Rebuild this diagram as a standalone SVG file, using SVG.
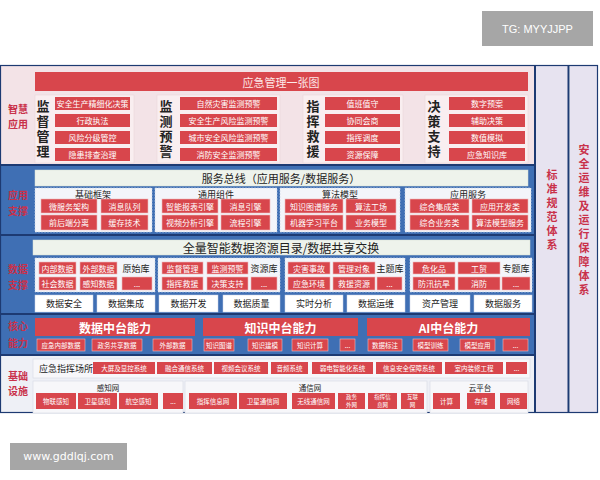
<svg xmlns="http://www.w3.org/2000/svg" width="600" height="480" viewBox="0 0 600 480">
<style>
text{font-family:"Noto Sans CJK SC","Noto Sans",sans-serif;text-anchor:middle;dominant-baseline:central}
.v{writing-mode:vertical-rl;text-orientation:upright}
.r{fill:#d8464c}
.rb{fill:#d8464c;stroke:#f0b8bc;stroke-width:0.6}
.w{fill:#fff;font-size:8px}
.wt{fill:#fde8e8;font-size:11px}
.lab{fill:#c9314a;font-size:10px;font-weight:bold}
.vl{fill:#222;font-size:13px;font-weight:bold;letter-spacing:2px}
.grp{fill:#f3f5fa;stroke:#c9d3e6;stroke-width:0.6;stroke-dasharray:2 1}
.pg{fill:#f9eef0;stroke:#ead6da;stroke-width:0.6}
.bar{fill:#eef3ec;stroke:#d7dfd3;stroke-width:0.5}
.dk{fill:#222;font-size:9px}
.wb{fill:#fff;stroke:#c9d3e6;stroke-width:0.5}
.cap{fill:#fff;font-size:12px;font-weight:bold}
.col{fill:#c9314a;font-size:11px;font-weight:bold;letter-spacing:3px}
.sm{fill:#fff;font-size:6.5px}
.xs{fill:#fff;font-size:5.5px}
</style>

<!-- backgrounds -->
<rect x="0" y="65" width="535" height="100" fill="#f3e3e7"/>
<rect x="0" y="165" width="535" height="190" fill="#3f6fb4"/>
<rect x="0" y="355" width="535" height="58" fill="#eef0f6"/>
<rect x="536" y="65" width="32" height="348" fill="#e7e3f0"/>
<rect x="570" y="65" width="28" height="348" fill="#e7e3f0"/>
<g stroke="#1d3a72" fill="none">
<rect x="0.5" y="65.5" width="597" height="347" stroke-width="1.2"/>
<line x1="0" y1="165" x2="535" y2="165" stroke-width="2"/>
<line x1="0" y1="235" x2="535" y2="235" stroke-width="2"/>
<line x1="0" y1="314" x2="535" y2="314" stroke-width="2"/>
<line x1="0" y1="355" x2="535" y2="355" stroke-width="2"/>
<line x1="535" y1="65" x2="535" y2="413" stroke-width="2"/>
<line x1="568.5" y1="65" x2="568.5" y2="413" stroke-width="2"/>
</g>

<!-- row labels -->
<g id="row-labels">
<text class="lab" x="18" y="108">智慧</text><text class="lab" x="18" y="123">应用</text>
<text class="lab" x="18" y="194">应用</text><text class="lab" x="18" y="210">支撑</text>
<text class="lab" x="18" y="268">数据</text><text class="lab" x="18" y="284">支撑</text>
<text class="lab" x="18" y="325">核心</text><text class="lab" x="18" y="342">能力</text>
<text class="lab" x="18" y="375">基础</text><text class="lab" x="18" y="390">设施</text>
</g>

<!-- right columns -->
<g id="standards">
<text class="col v" x="552" y="211">标准规范体系</text>
</g>
<g id="security">
<text class="col v" x="584" y="221">安全运维及运行保障体系</text>
</g>

<!-- row 1 -->
<g id="yjzt">
<rect class="r" x="35" y="72" width="493" height="19"/>
<text class="wt" x="281" y="82">应急管理一张图</text>
</g>
<g id="jdgl">
<rect class="pg" x="35" y="95" width="99" height="68"/>
<text class="vl v" x="43" y="130">监督管理</text>
<rect class="r" x="55" y="97" width="75" height="13"/><text class="w" x="92.5" y="103.5">安全生产精细化决策</text>
<rect class="r" x="55" y="114" width="75" height="13"/><text class="w" x="92.5" y="120.5">行政执法</text>
<rect class="r" x="55" y="131" width="75" height="13"/><text class="w" x="92.5" y="137.5">风险分级管控</text>
<rect class="r" x="55" y="148" width="75" height="13"/><text class="w" x="92.5" y="154.5">隐患排查治理</text>
</g>
<g id="jcyj">
<rect class="pg" x="157" y="95" width="123" height="68"/>
<text class="vl v" x="166" y="130">监测预警</text>
<rect class="r" x="180" y="97" width="97" height="13"/><text class="w" x="228.5" y="103.5">自然灾害监测预警</text>
<rect class="r" x="180" y="114" width="97" height="13"/><text class="w" x="228.5" y="120.5">安全生产风险监测预警</text>
<rect class="r" x="180" y="131" width="97" height="13"/><text class="w" x="228.5" y="137.5">城市安全风险监测预警</text>
<rect class="r" x="180" y="148" width="97" height="13"/><text class="w" x="228.5" y="154.5">消防安全监测预警</text>
</g>
<g id="zhjy">
<rect class="pg" x="303" y="95" width="100" height="68"/>
<text class="vl v" x="313" y="130">指挥救援</text>
<rect class="r" x="325" y="97" width="75" height="13"/><text class="w" x="362.5" y="103.5">值班值守</text>
<rect class="r" x="325" y="114" width="75" height="13"/><text class="w" x="362.5" y="120.5">协同会商</text>
<rect class="r" x="325" y="131" width="75" height="13"/><text class="w" x="362.5" y="137.5">指挥调度</text>
<rect class="r" x="325" y="148" width="75" height="13"/><text class="w" x="362.5" y="154.5">资源保障</text>
</g>
<g id="jczc">
<rect class="pg" x="425" y="95" width="103" height="68"/>
<text class="vl v" x="434" y="130">决策支持</text>
<rect class="r" x="449" y="97" width="76" height="13"/><text class="w" x="487" y="103.5">数字预案</text>
<rect class="r" x="449" y="114" width="76" height="13"/><text class="w" x="487" y="120.5">辅助决策</text>
<rect class="r" x="449" y="131" width="76" height="13"/><text class="w" x="487" y="137.5">数值模拟</text>
<rect class="r" x="449" y="148" width="76" height="13"/><text class="w" x="487" y="154.5">应急知识库</text>
</g>

<!-- row 2 -->
<g id="fwzx">
<rect class="bar" x="35" y="170" width="493" height="16"/>
<text x="281" y="178" fill="#222" font-size="11">服务总线（应用服务/数据服务）</text>
</g>
<g id="jckj">
<rect class="grp" x="35" y="188" width="117" height="44"/>
<text class="dk" x="93" y="194">基础框架</text>
<rect class="rb" x="41" y="199" width="56" height="14"/><text class="w" x="69" y="206">微服务架构</text>
<rect class="rb" x="101" y="199" width="47" height="14"/><text class="w" x="124.5" y="206">消息队列</text>
<rect class="rb" x="41" y="215" width="56" height="15"/><text class="w" x="69" y="222.5">前后端分离</text>
<rect class="rb" x="101" y="215" width="47" height="15"/><text class="w" x="124.5" y="222.5">缓存技术</text>
</g>
<g id="tyzj">
<rect class="grp" x="155" y="188" width="122" height="44"/>
<text class="dk" x="216" y="194">通用组件</text>
<rect class="rb" x="162" y="199" width="56" height="14"/><text class="w" x="190" y="206">智能报表引擎</text>
<rect class="rb" x="221" y="199" width="49" height="14"/><text class="w" x="245.5" y="206">消息引擎</text>
<rect class="rb" x="162" y="215" width="56" height="15"/><text class="w" x="190" y="222.5">视频分析引擎</text>
<rect class="rb" x="221" y="215" width="49" height="15"/><text class="w" x="245.5" y="222.5">流程引擎</text>
</g>
<g id="sfmx">
<rect class="grp" x="280" y="188" width="120" height="44"/>
<text class="dk" x="340" y="194">算法模型</text>
<rect class="rb" x="285" y="199" width="58" height="14"/><text class="w" x="314" y="206">知识图谱服务</text>
<rect class="rb" x="346" y="199" width="50" height="14"/><text class="w" x="371" y="206">算法工场</text>
<rect class="rb" x="285" y="215" width="58" height="15"/><text class="w" x="314" y="222.5">机器学习平台</text>
<rect class="rb" x="346" y="215" width="50" height="15"/><text class="w" x="371" y="222.5">业务模型</text>
</g>
<g id="yyfw">
<rect class="grp" x="405" y="188" width="126" height="44"/>
<text class="dk" x="468" y="194">应用服务</text>
<rect class="rb" x="410" y="199" width="59" height="14"/><text class="w" x="439.5" y="206">综合集成类</text>
<rect class="rb" x="472" y="199" width="56" height="14"/><text class="w" x="500" y="206">应用开发类</text>
<rect class="rb" x="410" y="215" width="59" height="15"/><text class="w" x="439.5" y="222.5">综合业务类</text>
<rect class="rb" x="472" y="215" width="56" height="15"/><text class="w" x="500" y="222.5">算法模型服务</text>
</g>

<!-- row 3 -->
<g id="sjml">
<rect class="bar" x="33" y="240" width="497" height="15"/>
<text x="281" y="247.5" fill="#222" font-size="12">全量智能数据资源目录/数据共享交换</text>
</g>
<g id="ysk">
<rect class="grp" x="35" y="258" width="120" height="34"/>
<rect class="rb" x="39" y="262" width="37" height="12"/><text class="w" x="57.5" y="268">内部数据</text>
<rect class="rb" x="80" y="262" width="37" height="12"/><text class="w" x="98.5" y="268">外部数据</text>
<rect class="rb" x="39" y="277" width="37" height="13"/><text class="w" x="57.5" y="283.5">社会数据</text>
<rect class="rb" x="80" y="277" width="37" height="13"/><text class="w" x="98.5" y="283.5">感知数据</text>
<rect class="rb" x="122" y="277" width="30" height="13"/><text class="w" x="137" y="283">...</text>
<text class="dk" x="136" y="268">原始库</text>
</g>
<g id="zyk">
<rect class="grp" x="158" y="258" width="122" height="34"/>
<rect class="rb" x="162" y="262" width="41" height="12"/><text class="w" x="182.5" y="268">监督管理</text>
<rect class="rb" x="207" y="262" width="41" height="12"/><text class="w" x="227.5" y="268">监测预警</text>
<rect class="rb" x="162" y="277" width="41" height="13"/><text class="w" x="182.5" y="283.5">指挥救援</text>
<rect class="rb" x="207" y="277" width="41" height="13"/><text class="w" x="227.5" y="283.5">决策支持</text>
<rect class="rb" x="251" y="277" width="26" height="13"/><text class="w" x="264" y="283">...</text>
<text class="dk" x="264" y="268">资源库</text>
</g>
<g id="ztk">
<rect class="grp" x="285" y="258" width="120" height="34"/>
<rect class="rb" x="288" y="262" width="42" height="12"/><text class="w" x="309" y="268">灾害事故</text>
<rect class="rb" x="333" y="262" width="42" height="12"/><text class="w" x="354" y="268">管理对象</text>
<rect class="rb" x="288" y="277" width="42" height="13"/><text class="w" x="309" y="283.5">应急环境</text>
<rect class="rb" x="333" y="277" width="42" height="13"/><text class="w" x="354" y="283.5">救援资源</text>
<rect class="rb" x="377" y="277" width="25" height="13"/><text class="w" x="389.5" y="283">...</text>
<text class="dk" x="390" y="268">主题库</text>
</g>
<g id="zhk">
<rect class="grp" x="410" y="258" width="122" height="34"/>
<rect class="rb" x="413" y="262" width="42" height="12"/><text class="w" x="434" y="268">危化品</text>
<rect class="rb" x="458" y="262" width="42" height="12"/><text class="w" x="479" y="268">工贸</text>
<rect class="rb" x="413" y="277" width="42" height="13"/><text class="w" x="434" y="283.5">防汛抗旱</text>
<rect class="rb" x="458" y="277" width="42" height="13"/><text class="w" x="479" y="283.5">消防</text>
<rect class="rb" x="502" y="277" width="28" height="13"/><text class="w" x="516" y="283">...</text>
<text class="dk" x="516" y="268">专题库</text>
</g>
<g id="sjzl">
<rect class="wb" x="35" y="295" width="58" height="17"/><text class="dk" x="64" y="303.5">数据安全</text>
<rect class="wb" x="97" y="295" width="58" height="17"/><text class="dk" x="126" y="303.5">数据集成</text>
<rect class="wb" x="159" y="295" width="59" height="17"/><text class="dk" x="188.5" y="303.5">数据开发</text>
<rect class="wb" x="223" y="295" width="57" height="17"/><text class="dk" x="251.5" y="303.5">数据质量</text>
<rect class="wb" x="285" y="295" width="58" height="17"/><text class="dk" x="314" y="303.5">实时分析</text>
<rect class="wb" x="347" y="295" width="58" height="17"/><text class="dk" x="376" y="303.5">数据运维</text>
<rect class="wb" x="410" y="295" width="60" height="17"/><text class="dk" x="440" y="303.5">资产管理</text>
<rect class="wb" x="474" y="295" width="58" height="17"/><text class="dk" x="503" y="303.5">数据服务</text>
</g>

<!-- row 4 -->
<g id="sjzt">
<rect class="r" x="35" y="318" width="160" height="18"/>
<text class="cap" x="115" y="327">数据中台能力</text>
<rect class="rb" x="37" y="339" width="48" height="12"/><text class="sm" x="61" y="345">应急内部数据</text>
<rect class="rb" x="92" y="339" width="50" height="12"/><text class="sm" x="117" y="345">政务共享数据</text>
<rect class="rb" x="153" y="339" width="39" height="12"/><text class="sm" x="172.5" y="345">外部数据</text>
</g>
<g id="zszt">
<rect class="r" x="203" y="318" width="155" height="18"/>
<text class="cap" x="280.5" y="327">知识中台能力</text>
<rect class="rb" x="204" y="339" width="30" height="12"/><text class="sm" x="219" y="345">知识图谱</text>
<rect class="rb" x="248" y="339" width="34" height="12"/><text class="sm" x="265" y="345">知识建模</text>
<rect class="rb" x="292" y="339" width="36" height="12"/><text class="sm" x="310" y="345">知识计算</text>
<rect class="rb" x="340" y="339" width="15" height="12"/><text class="sm" x="347.5" y="344.5">...</text>
</g>
<g id="aizt">
<rect class="r" x="367" y="318" width="163" height="18"/>
<text class="cap" x="448.5" y="327">AI中台能力</text>
<rect class="rb" x="368" y="339" width="34" height="12"/><text class="sm" x="385" y="345">数据标注</text>
<rect class="rb" x="413" y="339" width="35" height="12"/><text class="sm" x="430.5" y="345">模型训练</text>
<rect class="rb" x="460" y="339" width="35" height="12"/><text class="sm" x="477.5" y="345">模型应用</text>
<rect class="rb" x="503" y="339" width="25" height="12"/><text class="sm" x="515.5" y="344.5">...</text>
</g>

<!-- row 5 -->
<g id="zhcs">
<rect x="33" y="359" width="497" height="19" fill="#f7f7fa" stroke="#d6d9e4" stroke-width="0.6"/>
<text class="dk" x="66" y="368.5">应急指挥场所</text>
<rect class="r" x="93" y="362" width="62" height="12"/><text class="sm" x="124" y="368">大屏及显控系统</text>
<rect class="r" x="157" y="362" width="55" height="12"/><text class="sm" x="184.5" y="368">融合通信系统</text>
<rect class="r" x="214" y="362" width="54" height="12"/><text class="sm" x="241" y="368">视频会议系统</text>
<rect class="r" x="271" y="362" width="37" height="12"/><text class="sm" x="289.5" y="368">音频系统</text>
<rect class="r" x="312" y="362" width="61" height="12"/><text class="sm" x="342.5" y="368">弱电智能化系统</text>
<rect class="r" x="376" y="362" width="66" height="12"/><text class="sm" x="409" y="368">信息安全保障系统</text>
<rect class="r" x="445" y="362" width="58" height="12"/><text class="sm" x="474" y="368">室内装修工程</text>
<rect class="r" x="506" y="362" width="21" height="12"/><text class="sm" x="516.5" y="367.5">...</text>
</g>
<g id="gzw">
<rect x="33" y="381" width="150" height="32" fill="#f7f7fa" stroke="#d6d9e4" stroke-width="0.6"/>
<text x="108" y="387" fill="#222" font-size="7.5">感知网</text>
<rect class="r" x="36" y="393" width="40" height="16"/><text class="sm" x="56" y="401">物联感知</text>
<rect class="r" x="78" y="393" width="39" height="16"/><text class="sm" x="97.5" y="401">卫星感知</text>
<rect class="r" x="119" y="393" width="39" height="16"/><text class="sm" x="138.5" y="401">航空感知</text>
<rect class="r" x="163" y="393" width="20" height="16"/><text class="sm" x="173" y="400.5">...</text>
</g>
<g id="txw">
<rect x="185" y="381" width="242" height="32" fill="#f7f7fa" stroke="#d6d9e4" stroke-width="0.6"/>
<text x="310" y="387" fill="#222" font-size="7.5">通信网</text>
<rect class="r" x="189" y="393" width="48" height="16"/><text class="sm" x="213" y="401">指挥信息网</text>
<rect class="r" x="239" y="393" width="48" height="16"/><text class="sm" x="263" y="401">卫星通信网</text>
<rect class="r" x="292" y="393" width="43" height="16"/><text class="sm" x="313.5" y="401">无线通信网</text>
<rect class="r" x="338" y="393" width="27" height="16"/><text class="xs" x="351.5" y="397"><tspan x="351.5" dy="0">政务</tspan><tspan x="351.5" dy="8">外网</tspan></text>
<rect class="r" x="368" y="393" width="29" height="16"/><text class="xs" x="382.5" y="397"><tspan x="382.5" dy="0">指挥信</tspan><tspan x="382.5" dy="8">息网</tspan></text>
<rect class="r" x="401" y="393" width="23" height="16"/><text class="xs" x="412.5" y="397"><tspan x="412.5" dy="0">互联</tspan><tspan x="412.5" dy="8">网</tspan></text>
</g>
<g id="ypt">
<rect x="430" y="381" width="98" height="32" fill="#f7f7fa" stroke="#d6d9e4" stroke-width="0.6"/>
<text x="480" y="387" fill="#222" font-size="7.5">云平台</text>
<rect class="r" x="433" y="393" width="27" height="16"/><text class="sm" x="446.5" y="401">计算</text>
<rect class="r" x="467" y="393" width="28" height="16"/><text class="sm" x="481" y="401">存储</text>
<rect class="r" x="500" y="393" width="27" height="16"/><text class="sm" x="513.5" y="401">网络</text>
</g>

<!-- watermarks -->
<g id="wm-tg">
<rect x="482" y="11" width="111" height="35" fill="#a6a6a6"/>
<text x="537.5" y="28.5" fill="#fff" font-size="11" style="font-family:'Liberation Sans',sans-serif">TG: MYYJJPP</text>
</g>
<g id="wm-www">
<rect x="10" y="443" width="117" height="27" fill="#a6a6a6"/>
<text x="68.5" y="456.5" fill="#fff" font-size="11" style="font-family:'DejaVu Sans',sans-serif">www.gddlqj.com</text>
</g>
</svg>
